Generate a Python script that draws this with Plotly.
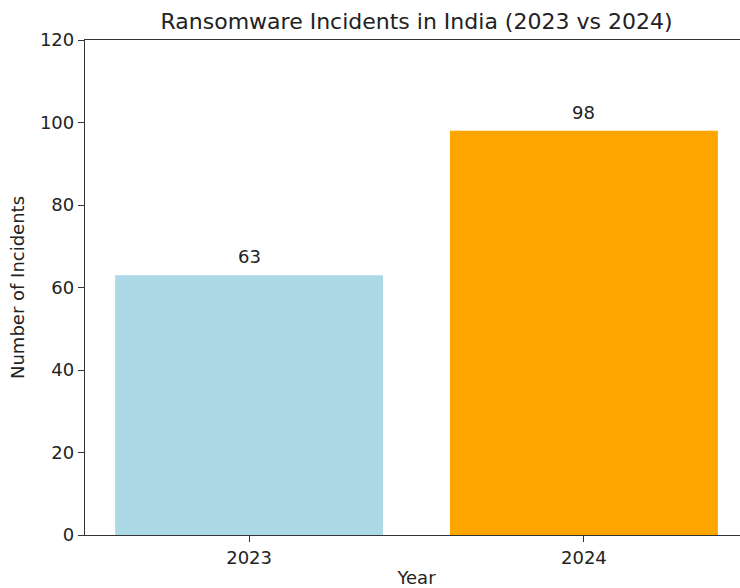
import plotly.graph_objects as go

years = ["2023", "2024"]
incidents = [63, 98]
bar_colors = ["#ADD8E6", "#FFA500"]
y_ticks = [0, 20, 40, 60, 80, 100, 120]

font_family = "DejaVu Sans, sans-serif"
txt = "#222222"

fig = go.Figure()
fig.add_trace(go.Bar(
    x=years, y=incidents, marker=dict(color=bar_colors, line=dict(width=0)),
    width=0.8, showlegend=False, hoverinfo="skip",
))

for i, v in enumerate(incidents):
    fig.add_annotation(x=i, y=v, xref="x", yref="y", text=str(v), showarrow=False,
                       yanchor="bottom", yshift=6,
                       font=dict(family=font_family, size=18, color=txt))

W, H = 748, 588
fig.update_layout(
    width=W, height=H,
    margin=dict(l=85, r=0, t=40, b=53),
    plot_bgcolor="white", paper_bgcolor="white",
    font=dict(family=font_family, color=txt, size=18),
    title=dict(text="Ransomware Incidents in India (2023 vs 2024)",
               x=(85 + 748) / 2 / W, xanchor="center", y=1 - 21 / H, yanchor="middle",
               font=dict(size=22, family=font_family, color=txt)),
    bargap=0.2,
)
fig.update_xaxes(
    type="category", range=[-0.49, 1.49],
    showline=True, linecolor="#333333", linewidth=1.3, mirror=True,
    ticks="outside", ticklen=6, tickwidth=1.3, tickcolor="#333333",
    showgrid=False, zeroline=False, automargin=False,
    tickfont=dict(size=18, family=font_family, color=txt),
    title=dict(text="Year", standoff=9, font=dict(size=18, family=font_family, color=txt)),
)
fig.update_yaxes(
    range=[0, 120], tickvals=y_ticks,
    showline=True, linecolor="#333333", linewidth=1.3, mirror=False,
    ticks="outside", ticklen=6, tickwidth=1.3, tickcolor="#333333",
    showgrid=False, zeroline=False, automargin=False,
    tickfont=dict(size=18, family=font_family, color=txt),
    title=dict(text="Number of Incidents", standoff=10, font=dict(size=18, family=font_family, color=txt)),
)

fig.write_html(
    "out.html",
    config={"displayModeBar": False},
    post_script=(
        "document.body.style.margin='0';"
        "document.body.style.overflow='hidden';"
        "document.documentElement.style.overflow='hidden';"
    ),
)
